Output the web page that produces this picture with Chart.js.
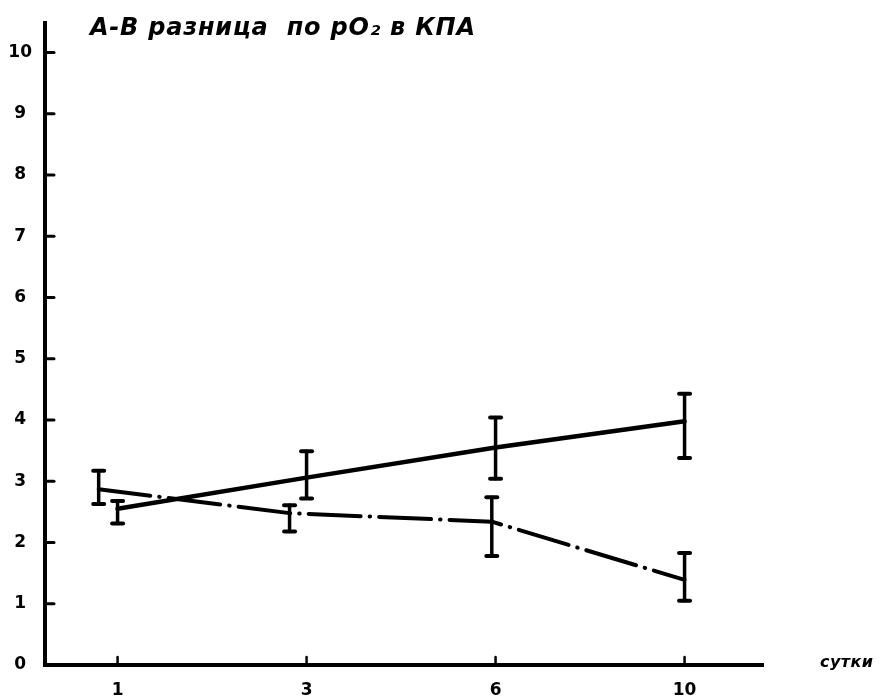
<!DOCTYPE html>
<html>
<head>
<meta charset="utf-8">
<script src="https://cdn.jsdelivr.net/npm/chart.js@4"></script>
<style>
  html, body { margin: 0; padding: 0; background: #fff; }
  #wrap { width: 892px; height: 697px; }
</style>
</head>
<body>
<div id="wrap"><canvas id="c" width="892" height="697"></canvas></div>
<script>
// Days of observation (equally spaced on the axis)
const days = ['1', '3', '6', '10'];
const yTicks = [0, 1, 2, 3, 4, 5, 6, 7, 8, 9, 10];

// Solid curve: mean and error-bar limits, placed on the day marks
const solidMean = [2.55, 3.06, 3.55, 3.98];
const solidLow  = [2.31, 2.72, 3.04, 3.38];
const solidHigh = [2.68, 3.49, 4.04, 4.43];
const solidPos  = [0, 1, 2, 3];

// Dash-dot curve: mean and error-bar limits (drawn slightly left of the day marks)
const dashMean = [2.87, 2.48, 2.34, 1.39];
const dashLow  = [2.63, 2.18, 1.78, 1.05];
const dashHigh = [3.17, 2.61, 2.74, 1.83];
const dashPos  = [-0.10, 0.91, 1.98, 3.0];

const titleText = 'А-В разница  по pO₂ в КПА';
const unitText = 'сутки';

const toPoints = (pos, vals) => vals.map((v, i) => ({ x: pos[i], y: v }));

const series = [
  { pos: solidPos, low: solidLow, high: solidHigh },
  { pos: dashPos, low: dashLow, high: dashHigh }
];

function fitText(ctx, text, font, width) {
  ctx.font = font;
  ctx.letterSpacing = '0px';
  const w = ctx.measureText(text).width;
  const n = [...text].length;
  const sp = Math.max(0, (width - w) / (n - 1));
  ctx.letterSpacing = sp.toFixed(2) + 'px';
}

const decorations = {
  id: 'decorations',
  afterDatasetsDraw(chart) {
    const { ctx, scales: { x, y } } = chart;
    ctx.save();
    ctx.strokeStyle = '#000';
    ctx.fillStyle = '#000';
    ctx.lineCap = 'round';

    // inward tick marks on the value axis
    ctx.lineWidth = 3;
    yTicks.slice(1).forEach(v => {
      const py = y.getPixelForValue(v);
      ctx.beginPath();
      ctx.moveTo(x.left, py);
      ctx.lineTo(x.left + 9, py);
      ctx.stroke();
    });

    // small upward tick marks at each day
    ctx.lineWidth = 2.5;
    days.forEach((d, i) => {
      const px = x.getPixelForValue(i);
      ctx.beginPath();
      ctx.moveTo(px, y.bottom);
      ctx.lineTo(px, y.bottom - 8);
      ctx.stroke();
    });

    // error bars with caps
    series.forEach(s => {
      s.pos.forEach((p, i) => {
        const px = x.getPixelForValue(p);
        const pl = y.getPixelForValue(s.low[i]);
        const ph = y.getPixelForValue(s.high[i]);
        ctx.lineWidth = 3.5;
        ctx.beginPath();
        ctx.moveTo(px, pl);
        ctx.lineTo(px, ph);
        ctx.stroke();
        ctx.lineWidth = 4;
        [pl, ph].forEach(py => {
          ctx.beginPath();
          ctx.moveTo(px - 5.5, py);
          ctx.lineTo(px + 5.5, py);
          ctx.stroke();
        });
      });
    });

    // title
    fitText(ctx, titleText, 'italic bold 24px "DejaVu Sans"', 385);
    ctx.textAlign = 'left';
    ctx.textBaseline = 'alphabetic';
    ctx.fillText(titleText, 90, 35);

    // unit label for the day axis
    fitText(ctx, unitText, 'italic bold 16px "DejaVu Sans"', 53);
    ctx.fillText(unitText, 820, 667);
    ctx.restore();
  }
};

const axisFont = { family: '"DejaVu Sans"', size: 17, weight: 'bold' };

new Chart(document.getElementById('c'), {
  type: 'line',
  data: {
    datasets: [
      {
        data: toPoints(solidPos, solidMean),
        borderColor: '#000',
        borderWidth: 4.5,
        borderCapStyle: 'round',
        borderJoinStyle: 'round',
        pointRadius: 0,
        tension: 0
      },
      {
        data: toPoints(dashPos, dashMean),
        borderColor: '#000',
        borderWidth: 4,
        borderDash: [52, 9, 0.5, 9],
        borderCapStyle: 'round',
        borderJoinStyle: 'round',
        pointRadius: 0,
        tension: 0
      }
    ]
  },
  options: {
    responsive: false,
    animation: false,
    devicePixelRatio: 1,
    layout: { padding: { top: 8, right: 129, left: 0, bottom: 0 } },
    plugins: { legend: { display: false }, tooltip: { enabled: false }, title: { display: false } },
    scales: {
      x: {
        type: 'linear',
        min: -0.384,
        max: 3.415,
        afterBuildTicks: s => { s.ticks = days.map((d, i) => ({ value: i })); },
        afterFit: s => { s.height = 32; },
        grid: { display: false, drawTicks: false },
        border: { display: true, color: '#000', width: 4 },
        ticks: {
          autoSkip: false,
          maxRotation: 0,
          padding: 15,
          color: '#000',
          font: axisFont,
          callback: v => days[v] ?? ''
        }
      },
      y: {
        type: 'linear',
        min: 0,
        max: 10.48,
        afterBuildTicks: s => { s.ticks = yTicks.map(v => ({ value: v })); },
        afterFit: s => { s.width = 45; },
        grid: { display: false, drawTicks: false },
        border: { display: true, color: '#000', width: 4 },
        ticks: {
          padding: 13,
          crossAlign: 'center',
          color: '#000',
          font: axisFont,
          callback: v => String(v)
        }
      }
    }
  },
  plugins: [decorations]
});
</script>
</body>
</html>
